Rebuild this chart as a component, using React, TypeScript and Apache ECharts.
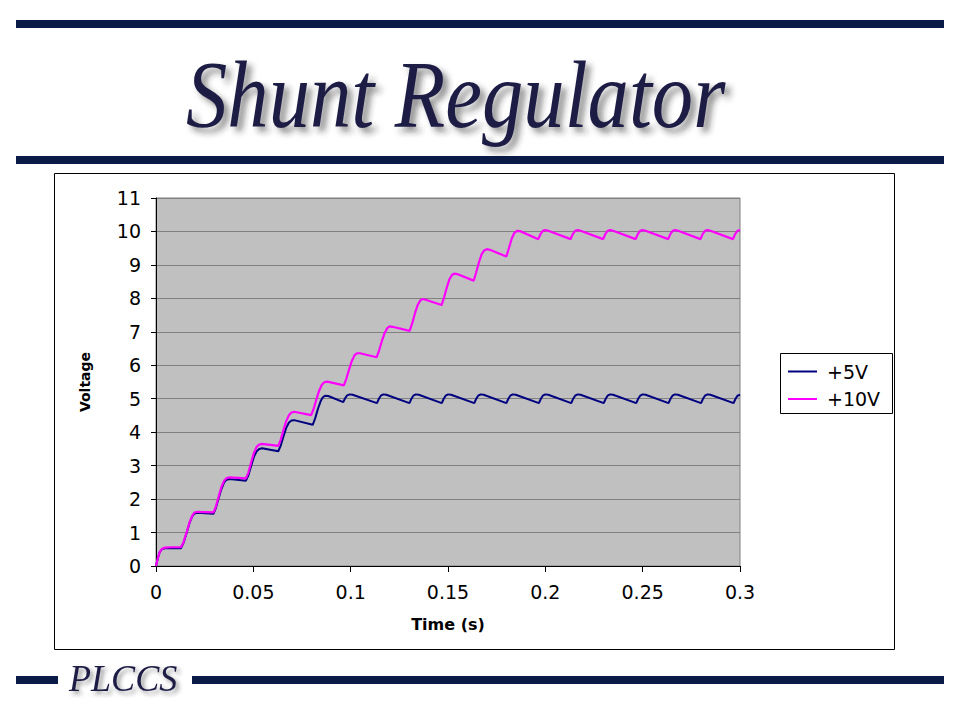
import React, { useEffect, useRef } from "react";
import * as echarts from "echarts";

const titleText = "Shunt Regulator";
const footerText = "PLCCS";
const seriesNames = ["+5V", "+10V"];
const xAxisName = "Time (s)";
const yAxisName = "Voltage";
const xTickLabels = ["0", "0.05", "0.1", "0.15", "0.2", "0.25", "0.3"];
const yTickLabels = ["0", "1", "2", "3", "4", "5", "6", "7", "8", "9", "10", "11"];

// +5V output: [time (s), voltage]
const plus5V: [number, number][] = [
  [0, 0], [0.0008, 0.2], [0.0018, 0.4], [0.003, 0.5], [0.0045, 0.53], [0.0128, 0.53],
  [0.0142, 0.7], [0.0158, 1.0], [0.0172, 1.28], [0.0186, 1.48], [0.0198, 1.57], [0.0212, 1.59], [0.0295, 1.56],
  [0.0308, 1.74], [0.0322, 2.03], [0.0336, 2.3], [0.035, 2.5], [0.0363, 2.58], [0.0378, 2.6], [0.0462, 2.55],
  [0.0475, 2.72], [0.0489, 3.0], [0.0503, 3.26], [0.0517, 3.43], [0.053, 3.5], [0.0545, 3.52], [0.0628, 3.43],
  [0.0641, 3.6], [0.0655, 3.88], [0.0669, 4.13], [0.0683, 4.29], [0.0696, 4.35], [0.071, 4.36], [0.0805, 4.22],
  [0.0818, 4.42], [0.0832, 4.7], [0.0846, 4.93], [0.0858, 5.05], [0.087, 5.09], [0.0885, 5.08], [0.0962, 4.9],
  [0.0972, 5.02], [0.0982, 5.1], [0.0995, 5.13], [0.101, 5.12], [0.1135, 4.87],
  [0.1145, 5.0], [0.1155, 5.09], [0.1168, 5.13], [0.1183, 5.12], [0.1302, 4.87],
  [0.1312, 5.0], [0.1322, 5.09], [0.1335, 5.13], [0.135, 5.12], [0.1468, 4.87],
  [0.1478, 5.0], [0.1488, 5.09], [0.1501, 5.13], [0.1516, 5.12], [0.1635, 4.87],
  [0.1645, 5.0], [0.1655, 5.09], [0.1668, 5.13], [0.1683, 5.12], [0.18, 4.87],
  [0.181, 5.0], [0.182, 5.09], [0.1833, 5.13], [0.1848, 5.12], [0.1967, 4.87],
  [0.1977, 5.0], [0.1987, 5.09], [0.2, 5.13], [0.2015, 5.12], [0.2133, 4.87],
  [0.2143, 5.0], [0.2153, 5.09], [0.2166, 5.13], [0.2181, 5.12], [0.23, 4.87],
  [0.231, 5.0], [0.232, 5.09], [0.2333, 5.13], [0.2348, 5.12], [0.2467, 4.87],
  [0.2477, 5.0], [0.2487, 5.09], [0.25, 5.13], [0.2515, 5.12], [0.2633, 4.87],
  [0.2643, 5.0], [0.2653, 5.09], [0.2666, 5.13], [0.2681, 5.12], [0.28, 4.87],
  [0.281, 5.0], [0.282, 5.09], [0.2833, 5.13], [0.2848, 5.12], [0.2967, 4.87],
  [0.2977, 5.0], [0.2987, 5.09], [0.3, 5.12],
];

// +10V output: [time (s), voltage]
const plus10V: [number, number][] = [
  [0, 0], [0.0008, 0.2], [0.0018, 0.4], [0.003, 0.51], [0.0045, 0.55], [0.008, 0.56], [0.0128, 0.56],
  [0.0142, 0.72], [0.0158, 1.02], [0.0172, 1.3], [0.0186, 1.5], [0.0198, 1.6], [0.0212, 1.62], [0.0295, 1.6],
  [0.0308, 1.78], [0.0322, 2.08], [0.0336, 2.36], [0.035, 2.55], [0.0363, 2.63], [0.0378, 2.65], [0.0462, 2.62],
  [0.0475, 2.8], [0.0489, 3.1], [0.0503, 3.38], [0.0517, 3.56], [0.053, 3.63], [0.0545, 3.65], [0.0628, 3.59],
  [0.0641, 3.78], [0.0655, 4.07], [0.0669, 4.33], [0.0683, 4.51], [0.0696, 4.59], [0.071, 4.61], [0.0797, 4.51],
  [0.081, 4.7], [0.0824, 4.98], [0.0838, 5.24], [0.0852, 5.42], [0.0866, 5.5], [0.088, 5.51], [0.0965, 5.4],
  [0.0978, 5.6], [0.0992, 5.88], [0.1006, 6.13], [0.102, 6.3], [0.1034, 6.36], [0.1048, 6.36], [0.1133, 6.24],
  [0.1146, 6.44], [0.116, 6.72], [0.1174, 6.96], [0.1188, 7.11], [0.12, 7.16], [0.1215, 7.15], [0.1303, 7.03],
  [0.1316, 7.25], [0.133, 7.55], [0.1344, 7.8], [0.1358, 7.94], [0.137, 7.98], [0.1385, 7.96], [0.1467, 7.8],
  [0.148, 8.03], [0.1494, 8.33], [0.1508, 8.58], [0.1522, 8.71], [0.1535, 8.74], [0.155, 8.72], [0.1632, 8.53],
  [0.1645, 8.78], [0.1659, 9.08], [0.1673, 9.32], [0.1687, 9.44], [0.17, 9.47], [0.1715, 9.45], [0.18, 9.25],
  [0.1813, 9.5], [0.1827, 9.78], [0.1841, 9.96], [0.1855, 10.02], [0.187, 10.01], [0.1964, 9.77],
  [0.1975, 9.92], [0.1987, 10.02], [0.2, 10.04], [0.2015, 10.02], [0.213, 9.77],
  [0.2141, 9.92], [0.2153, 10.02], [0.2166, 10.04], [0.2181, 10.02], [0.2297, 9.77],
  [0.2308, 9.92], [0.232, 10.02], [0.2333, 10.04], [0.2348, 10.02], [0.2464, 9.77],
  [0.2475, 9.92], [0.2487, 10.02], [0.25, 10.04], [0.2515, 10.02], [0.2631, 9.77],
  [0.2642, 9.92], [0.2654, 10.02], [0.2667, 10.04], [0.2682, 10.02], [0.2797, 9.77],
  [0.2808, 9.92], [0.282, 10.02], [0.2833, 10.04], [0.2848, 10.02], [0.2964, 9.77],
  [0.2975, 9.92], [0.2987, 10.02], [0.3, 10.04],
];

const NAVY_BAR = "#0b1b47";
const SANS = "'DejaVu Sans', 'Liberation Sans', Arial, sans-serif";
const SERIF = "'Liberation Serif', 'Times New Roman', serif";

export default function App() {
  const ref = useRef<HTMLDivElement>(null);

  useEffect(() => {
    if (!ref.current) return;
    const chart = echarts.init(ref.current, undefined, { renderer: "svg" });
    chart.setOption({
      animation: false,
      backgroundColor: "#ffffff",
      graphic: [
        { type: "rect", shape: { x: 16, y: 20, width: 928, height: 8 }, style: { fill: NAVY_BAR } },
        { type: "rect", shape: { x: 16, y: 156, width: 928, height: 8 }, style: { fill: NAVY_BAR } },
        { type: "rect", shape: { x: 16, y: 676, width: 42, height: 8 }, style: { fill: NAVY_BAR } },
        { type: "rect", shape: { x: 192, y: 676, width: 752, height: 8 }, style: { fill: NAVY_BAR } },
        {
          type: "text",
          x: 186,
          y: 95,
          scaleX: 0.87,
          style: {
            text: titleText,
            fontSize: 95,
            fontFamily: SERIF,
            fontStyle: "italic",
            fill: "#1c1b45",
            verticalAlign: "middle",
            align: "left",
            textShadowColor: "rgba(40,40,40,0.55)",
            textShadowBlur: 6,
            textShadowOffsetX: 5,
            textShadowOffsetY: 5,
          },
        },
        {
          type: "text",
          x: 69,
          y: 678,
          scaleX: 0.95,
          style: {
            text: footerText,
            fontSize: 38,
            fontFamily: SERIF,
            fontStyle: "italic",
            fill: "#1c1b45",
            verticalAlign: "middle",
            align: "left",
            textShadowColor: "rgba(40,40,40,0.5)",
            textShadowBlur: 4,
            textShadowOffsetX: 3,
            textShadowOffsetY: 3,
          },
        },
        {
          type: "rect",
          shape: { x: 54.5, y: 173.5, width: 840, height: 476 },
          style: { fill: "none", stroke: "#000", lineWidth: 1 },
        },
        {
          type: "rect",
          shape: { x: 780.5, y: 353.5, width: 112, height: 60 },
          style: { fill: "none", stroke: "#000", lineWidth: 1 },
        },
      ],
      legend: {
        data: seriesNames,
        orient: "vertical",
        left: 788,
        top: 362,
        padding: 0,
        itemWidth: 29,
        itemHeight: 2,
        itemGap: 8.5,
        icon: "rect",
        textStyle: { fontSize: 19, fontFamily: SANS, color: "#000", lineHeight: 19, padding: [0, 0, 0, 5] },
      },
      grid: {
        left: 156,
        top: 198,
        width: 584,
        height: 368,
        show: true,
        backgroundColor: "#c0c0c0",
        borderColor: "#808080",
        borderWidth: 1,
        containLabel: false,
      },
      xAxis: {
        type: "value",
        min: 0,
        max: 0.3,
        interval: 0.05,
        name: xAxisName,
        nameLocation: "middle",
        nameGap: 50,
        nameTextStyle: { fontSize: 16, fontWeight: "bold", fontFamily: SANS, color: "#000" },
        axisLine: { show: true, onZero: false, lineStyle: { color: "#000", width: 1 } },
        axisTick: { show: true, inside: false, length: 6, lineStyle: { color: "#000" } },
        axisLabel: {
          margin: 16,
          fontSize: 19,
          fontFamily: SANS,
          color: "#000",
          formatter: (v: number) => xTickLabels[Math.round(v / 0.05)] ?? "",
        },
        splitLine: { show: false },
      },
      yAxis: {
        type: "value",
        min: 0,
        max: 11,
        interval: 1,
        name: yAxisName,
        nameLocation: "middle",
        nameGap: 64,
        nameRotate: 90,
        nameTextStyle: { fontSize: 14, fontWeight: "bold", fontFamily: SANS, color: "#000" },
        axisLine: { show: true, onZero: false, lineStyle: { color: "#000", width: 1 } },
        axisTick: { show: true, inside: false, length: 5, lineStyle: { color: "#000" } },
        axisLabel: {
          margin: 15,
          fontSize: 19,
          fontFamily: SANS,
          color: "#000",
          formatter: (v: number) => yTickLabels[Math.round(v)] ?? "",
        },
        splitLine: { show: true, lineStyle: { color: "#808080", width: 1 } },
      },
      series: [
        {
          name: seriesNames[0],
          type: "line",
          data: plus5V,
          showSymbol: false,
          symbol: "none",
          color: "#000080",
          lineStyle: { color: "#000080", width: 2 },
        },
        {
          name: seriesNames[1],
          type: "line",
          data: plus10V,
          showSymbol: false,
          symbol: "none",
          color: "#ff00ff",
          lineStyle: { color: "#ff00ff", width: 2.2 },
        },
      ],
    });
    return () => chart.dispose();
  }, []);

  return (
    <div
      ref={ref}
      style={{ position: "absolute", left: 0, top: 0, width: 960, height: 720 }}
    />
  );
}
